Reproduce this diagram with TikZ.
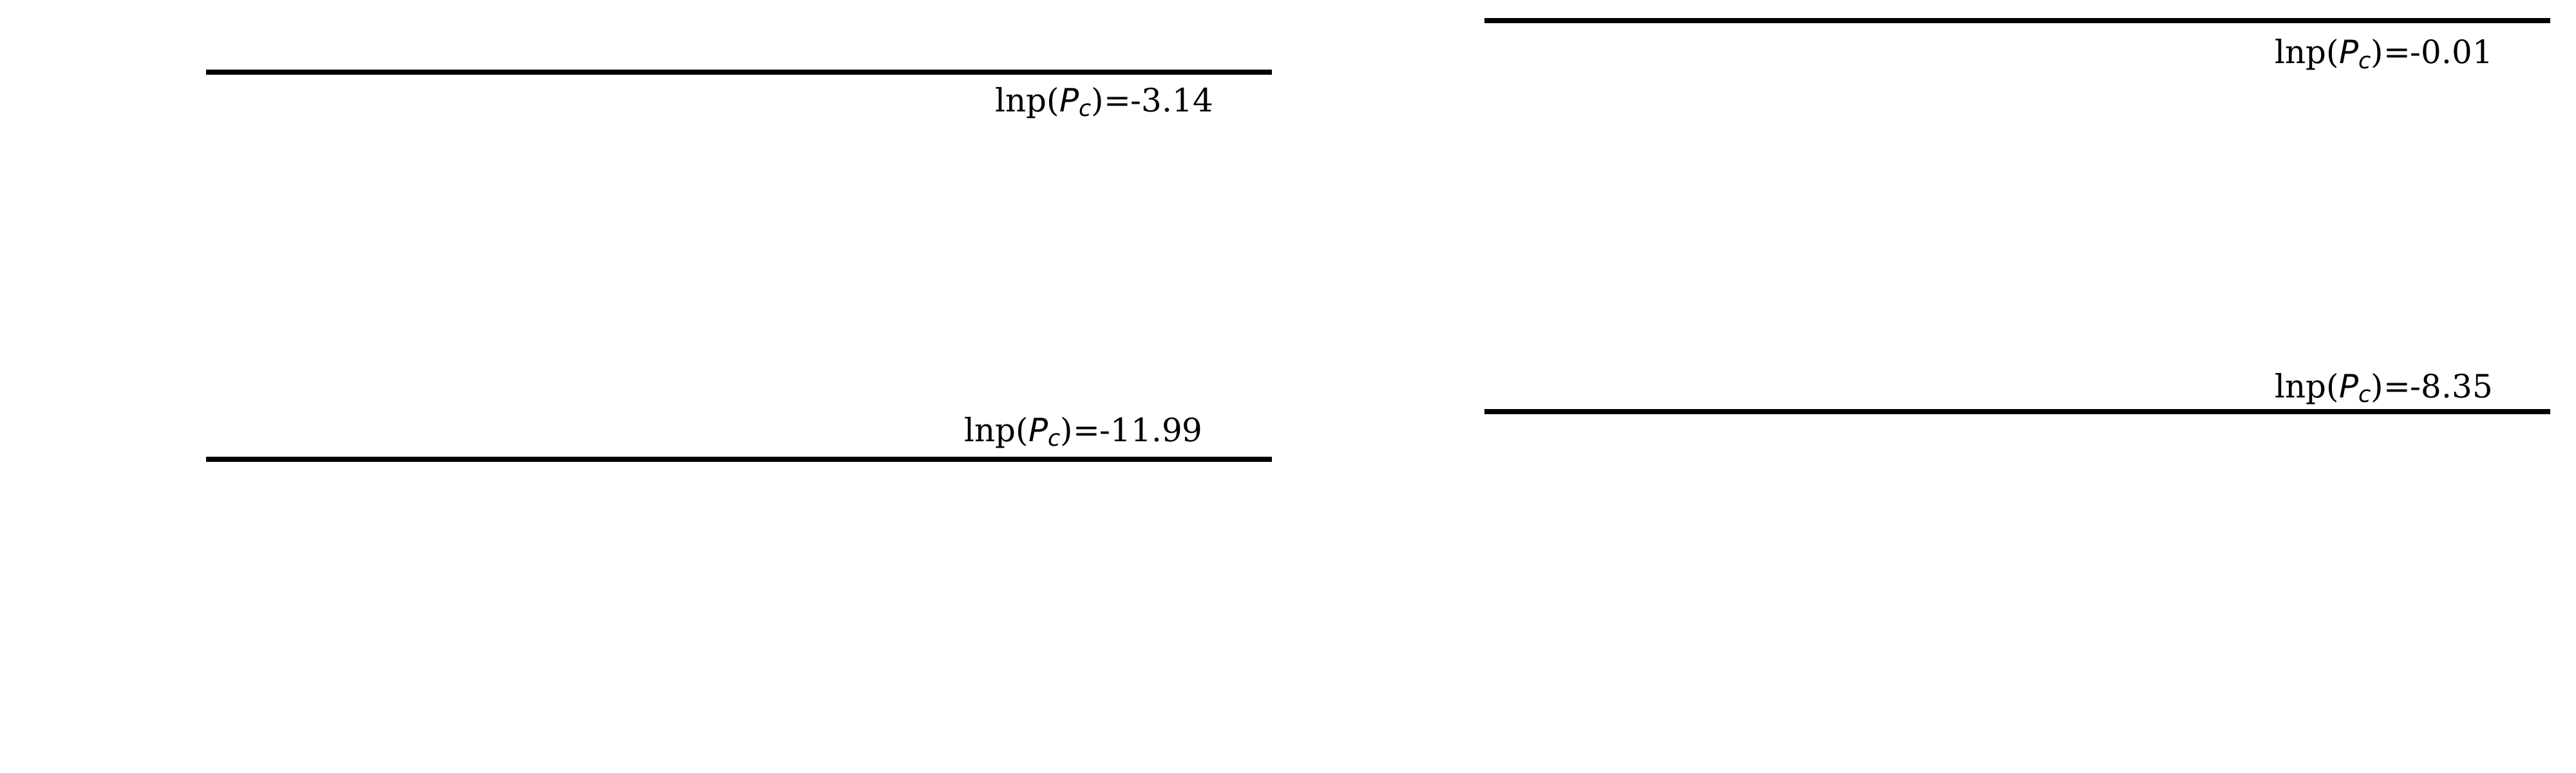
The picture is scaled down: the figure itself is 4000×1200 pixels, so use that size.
\documentclass[tikz,border=0pt]{standalone}
\usepackage{fontspec}
\setmainfont{DejaVu Serif}
\newfontfamily\dvsans{DejaVu Sans}
\newcommand{\Pc}{{\dvsans\itshape P}\raisebox{-0.16em}{\dvsans\itshape\fontsize{10pt}{12pt}\selectfont c}}

\begin{document}
\begin{tikzpicture}[x=0.1mm,y=-0.1mm,
        level/.style={line width=0.8mm},
        lbl/.style={anchor=base west,inner sep=0pt,font=\fontsize{14.2pt}{17pt}\selectfont}]
        \useasboundingbox (0,0) rectangle (4000,1200);

        \foreach \xa/\ya/\tx/\ty/\val/\nm in {320/112/1545/173/-3.14/a,320/713/1497/685/-11.99/b,2305/32/3532/99/-0.01/c,2305/639/3532/617/-8.35/d}
            {
                \coordinate (\nm l) at (\xa,\ya);
                \coordinate (\nm r) at (\xa+1655,\ya);
                \draw[level] (\nm l) -- (\nm r);
                \node[lbl] (\nm t) at (\tx,\ty){lnp(\Pc)=\val};
            }
    \end{tikzpicture}
\end{document}
